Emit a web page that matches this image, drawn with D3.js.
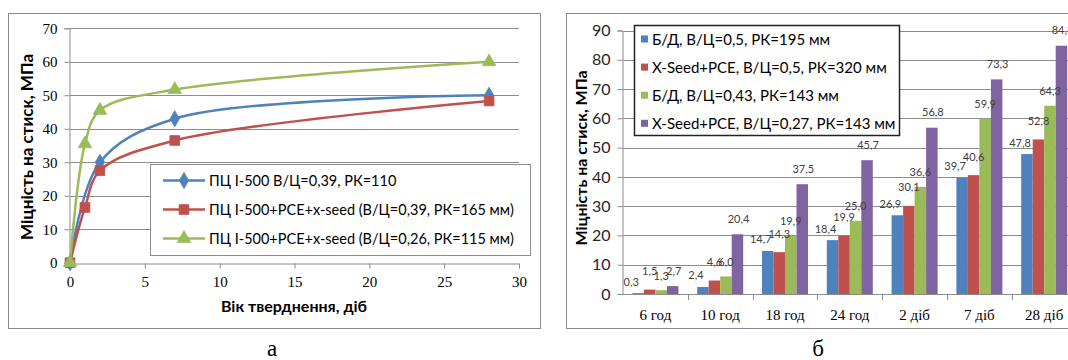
<!DOCTYPE html>
<html>
<head>
<meta charset="utf-8">
<script src="https://cdn.jsdelivr.net/npm/d3@7"></script>
<style>
  body { margin: 0; background: #fff; }
  svg { display: block; }
</style>
</head>
<body>
<div id="chart"></div>
<script>
// left chart: strength vs age (days)
var ageBlue = [0, 2, 7, 28];
var strengthBlue = [0, 30, 43, 50];
var ageRed = [0, 1, 2, 7, 28];
var strengthRed = [0, 16.5, 27.5, 36.5, 48.3];
var ageGreen = [0, 1, 2, 7, 28];
var strengthGreen = [0, 35.5, 45.5, 51.7, 60];
var lineNames = [
  "ПЦ І-500 В/Ц=0,39, РК=110",
  "ПЦ І-500+PCE+x-seed (В/Ц=0,39, РК=165 мм)",
  "ПЦ І-500+PCE+x-seed (В/Ц=0,26, РК=115 мм)"
];
var lineXTicks = [0, 5, 10, 15, 20, 25, 30];
var lineYTicks = [0, 10, 20, 30, 40, 50, 60, 70];

// right chart: bars
var categories = ["6 год", "10 год", "18 год", "24 год", "2 діб", "7 діб", "28 діб"];
var barNames = [
  "Б/Д, В/Ц=0,5, РК=195 мм",
  "X-Seed+PCE, В/Ц=0,5, РК=320 мм",
  "Б/Д, В/Ц=0,43, РК=143 мм",
  "X-Seed+PCE, В/Ц=0,27, РК=143 мм"
];
var bd05 = [0.3, 2.4, 14.7, 18.4, 26.9, 39.7, 47.8];
var xs05 = [1.5, 4.6, 14.3, 19.9, 30.1, 40.6, 52.8];
var bd043 = [1.3, 6.0, 19.9, 25.0, 36.6, 59.9, 64.3];
var xs027 = [2.7, 20.4, 37.5, 45.7, 56.8, 73.3, 84.8];
var barYTicks = [0, 10, 20, 30, 40, 50, 60, 70, 80, 90];

var colors = ["#4F81BD", "#C0504D", "#9BBB59", "#8064A2"];
var serif = "'Liberation Serif', 'Times New Roman', serif";
var sans = "Lato, 'Open Sans', sans-serif";
var fmt = function(v) { return v.toFixed(1).replace(".", ","); };

var svg = d3.select("#chart").append("svg")
  .attr("width", 1068)
  .attr("height", 360);

// ---------- left chart ----------
var left = svg.append("g");
left.append("rect")
  .attr("x", 8.5).attr("y", 13.5).attr("width", 532).attr("height", 315)
  .attr("fill", "#fff").attr("stroke", "#8a8a8a");

var x1 = d3.scaleLinear().domain([0, 30]).range([70, 519]);
var y1 = d3.scaleLinear().domain([0, 70]).range([262.7, 28.3]);

left.selectAll(".grid").data(lineYTicks.slice(1)).enter().append("line")
  .attr("x1", x1(0)).attr("x2", x1(30))
  .attr("y1", function(d) { return Math.round(y1(d)) + 0.5; })
  .attr("y2", function(d) { return Math.round(y1(d)) + 0.5; })
  .attr("stroke", "#8c8c8c").attr("stroke-width", 1);

var xAxis1 = left.append("g")
  .attr("transform", "translate(0," + (Math.round(y1(0)) + 0.5) + ")")
  .call(d3.axisBottom(x1).tickValues(lineXTicks).tickSize(5).tickPadding(6));
var yAxis1 = left.append("g")
  .attr("transform", "translate(" + (x1(0) - 0.5) + ",0)")
  .call(d3.axisLeft(y1).tickValues(lineYTicks).tickSize(5).tickPadding(7));
[xAxis1, yAxis1].forEach(function(a) {
  a.attr("font-family", null);
  a.selectAll("path,line").attr("stroke", "#8c8c8c");
  a.selectAll("text").style("font-family", serif).style("font-size", "15px").attr("fill", "#000");
});
xAxis1.selectAll("text").attr("dy", "0.8em");

left.append("text")
  .attr("transform", "translate(26,147) rotate(-90)")
  .attr("text-anchor", "middle").attr("dominant-baseline", "central")
  .attr("font-family", sans).attr("font-weight", "bold").attr("font-size", 17)
  .text("Міцність на стиск, МПа");
left.append("text")
  .attr("x", 294).attr("y", 305)
  .attr("text-anchor", "middle").attr("dominant-baseline", "central")
  .attr("font-family", sans).attr("font-weight", "bold").attr("font-size", 16)
  .text("Вік тверднення, діб");

var lineData = [
  { xs: ageBlue, ys: strengthBlue, color: colors[0], marker: d3.symbolDiamond, size: 75 },
  { xs: ageRed, ys: strengthRed, color: colors[1], marker: d3.symbolSquare, size: 95 },
  { xs: ageGreen, ys: strengthGreen, color: colors[2], marker: d3.symbolTriangle, size: 80 }
];
var line = d3.line().curve(d3.curveCatmullRom.alpha(0.5))
  .x(function(d) { return x1(d[0]); })
  .y(function(d) { return y1(d[1]); });

lineData.forEach(function(s) {
  var pts = s.xs.map(function(v, i) { return [v, s.ys[i]]; });
  left.append("path").datum(pts)
    .attr("d", line).attr("fill", "none")
    .attr("stroke", s.color).attr("stroke-width", 2.5);
});
lineData.forEach(function(s) {
  var pts = s.xs.map(function(v, i) { return [v, s.ys[i]]; });
  left.selectAll(null).data(pts).enter().append("path")
    .attr("transform", function(d) { return "translate(" + x1(d[0]) + "," + y1(d[1]) + ")"; })
    .attr("d", d3.symbol().type(s.marker).size(s.size))
    .attr("fill", s.color).attr("stroke", s.color).attr("stroke-width", 0.8);
});

// left legend
var leg1 = left.append("g");
leg1.append("rect")
  .attr("x", 150.5).attr("y", 164.5).attr("width", 380).attr("height", 91)
  .attr("fill", "#fff").attr("stroke", "#8c8c8c");
lineData.forEach(function(s, i) {
  var yy = 180.5 + i * 29;
  leg1.append("line").attr("x1", 163).attr("x2", 205).attr("y1", yy).attr("y2", yy)
    .attr("stroke", s.color).attr("stroke-width", 2.5);
  leg1.append("path")
    .attr("transform", "translate(184," + yy + ")")
    .attr("d", d3.symbol().type(s.marker).size(s.size))
    .attr("fill", s.color).attr("stroke", s.color).attr("stroke-width", 0.8);
  leg1.append("text")
    .attr("x", 209).attr("y", yy).attr("dominant-baseline", "central")
    .attr("font-family", sans).attr("font-size", 14.5).attr("fill", "#000")
    .text(lineNames[i]);
});

svg.append("text")
  .attr("x", 272).attr("y", 356).attr("text-anchor", "middle")
  .attr("font-family", serif).attr("font-size", 23)
  .text("а");

// ---------- right chart ----------
var right = svg.append("g");
right.append("rect")
  .attr("x", 566.5).attr("y", 13.5).attr("width", 520).attr("height", 315)
  .attr("fill", "#fff").attr("stroke", "#8a8a8a");

var x2 = d3.scaleBand().domain(categories).range([623, 1076.6])
  .paddingInner(0.29).paddingOuter(0.145);
var y2 = d3.scaleLinear().domain([0, 90]).range([294, 30.5]);
var xSub = d3.scaleBand().domain(d3.range(4)).range([0, x2.bandwidth()]);

right.selectAll(".grid").data(barYTicks.slice(1)).enter().append("line")
  .attr("x1", 623).attr("x2", 1068)
  .attr("y1", function(d) { return Math.round(y2(d)) + 0.5; })
  .attr("y2", function(d) { return Math.round(y2(d)) + 0.5; })
  .attr("stroke", "#8c8c8c").attr("stroke-width", 1);

var barSeries = [bd05, xs05, bd043, xs027];
// data labels: first series sits lower and to the left, second a bit higher, as in the source
var labelDx = [-7, 0, 0, 1];
var labelDy = [-12, -19, -15, -16];
barSeries.forEach(function(vals, s) {
  right.selectAll(null).data(vals).enter().append("rect")
    .attr("x", function(d, i) { return x2(categories[i]) + xSub(s); })
    .attr("y", function(d) { return y2(d); })
    .attr("width", xSub.bandwidth())
    .attr("height", function(d) { return y2(0) - y2(d); })
    .attr("fill", colors[s]);
});
barSeries.forEach(function(vals, s) {
  right.selectAll(null).data(vals).enter().append("text")
    .attr("x", function(d, i) { return x2(categories[i]) + xSub(s) + xSub.bandwidth() / 2 + labelDx[s]; })
    .attr("y", function(d) { return y2(d) + labelDy[s]; })
    .attr("text-anchor", "middle").attr("dominant-baseline", "central")
    .attr("font-family", sans).attr("font-size", 11).attr("fill", "#404040")
    .text(fmt);
});

// axes
var yAxis2 = right.append("g")
  .attr("transform", "translate(622.5,0)")
  .call(d3.axisLeft(y2).tickValues(barYTicks).tickSize(5).tickPadding(7));
yAxis2.selectAll("path,line").attr("stroke", "#8c8c8c");
yAxis2.selectAll("text").style("font-family", sans).style("font-size", "16px").attr("fill", "#262626");

right.append("line")
  .attr("x1", 623).attr("x2", 1068)
  .attr("y1", Math.round(y2(0)) + 0.5).attr("y2", Math.round(y2(0)) + 0.5)
  .attr("stroke", "#8c8c8c");
var bounds = categories.map(function(c) { return x2(c) - x2.step() * x2.paddingInner() / 2; });
right.selectAll(null).data(bounds.slice(1)).enter().append("line")
  .attr("x1", function(d) { return Math.round(d) + 0.5; })
  .attr("x2", function(d) { return Math.round(d) + 0.5; })
  .attr("y1", Math.round(y2(0))).attr("y2", Math.round(y2(0)) + 6)
  .attr("stroke", "#8c8c8c");
right.selectAll(null).data(categories).enter().append("text")
  .attr("x", function(c) { return x2(c) + x2.bandwidth() / 2; })
  .attr("y", 315).attr("text-anchor", "middle").attr("dominant-baseline", "central")
  .attr("font-family", serif).attr("font-size", 15).attr("fill", "#000")
  .text(function(c) { return c; });

right.append("text")
  .attr("transform", "translate(580,158) rotate(-90)")
  .attr("text-anchor", "middle").attr("dominant-baseline", "central")
  .attr("font-family", sans).attr("font-weight", "bold").attr("font-size", 16)
  .text("Міцність на стиск, МПа");

// right legend
var leg2 = right.append("g");
leg2.append("rect")
  .attr("x", 634.5).attr("y", 25.5).attr("width", 265).attr("height", 110)
  .attr("fill", "#fff").attr("stroke", "#222").attr("stroke-width", 1.5);
barNames.forEach(function(n, i) {
  var yy = 39 + i * 28.1;
  leg2.append("rect")
    .attr("x", 641).attr("y", yy - 3.5).attr("width", 7).attr("height", 7)
    .attr("fill", colors[i]);
  leg2.append("text")
    .attr("x", 652).attr("y", yy).attr("dominant-baseline", "central")
    .attr("font-family", sans).attr("font-size", 15).attr("fill", "#000")
    .text(n);
});

svg.append("text")
  .attr("x", 818).attr("y", 356).attr("text-anchor", "middle")
  .attr("font-family", serif).attr("font-size", 23)
  .text("б");
</script>
</body>
</html>
